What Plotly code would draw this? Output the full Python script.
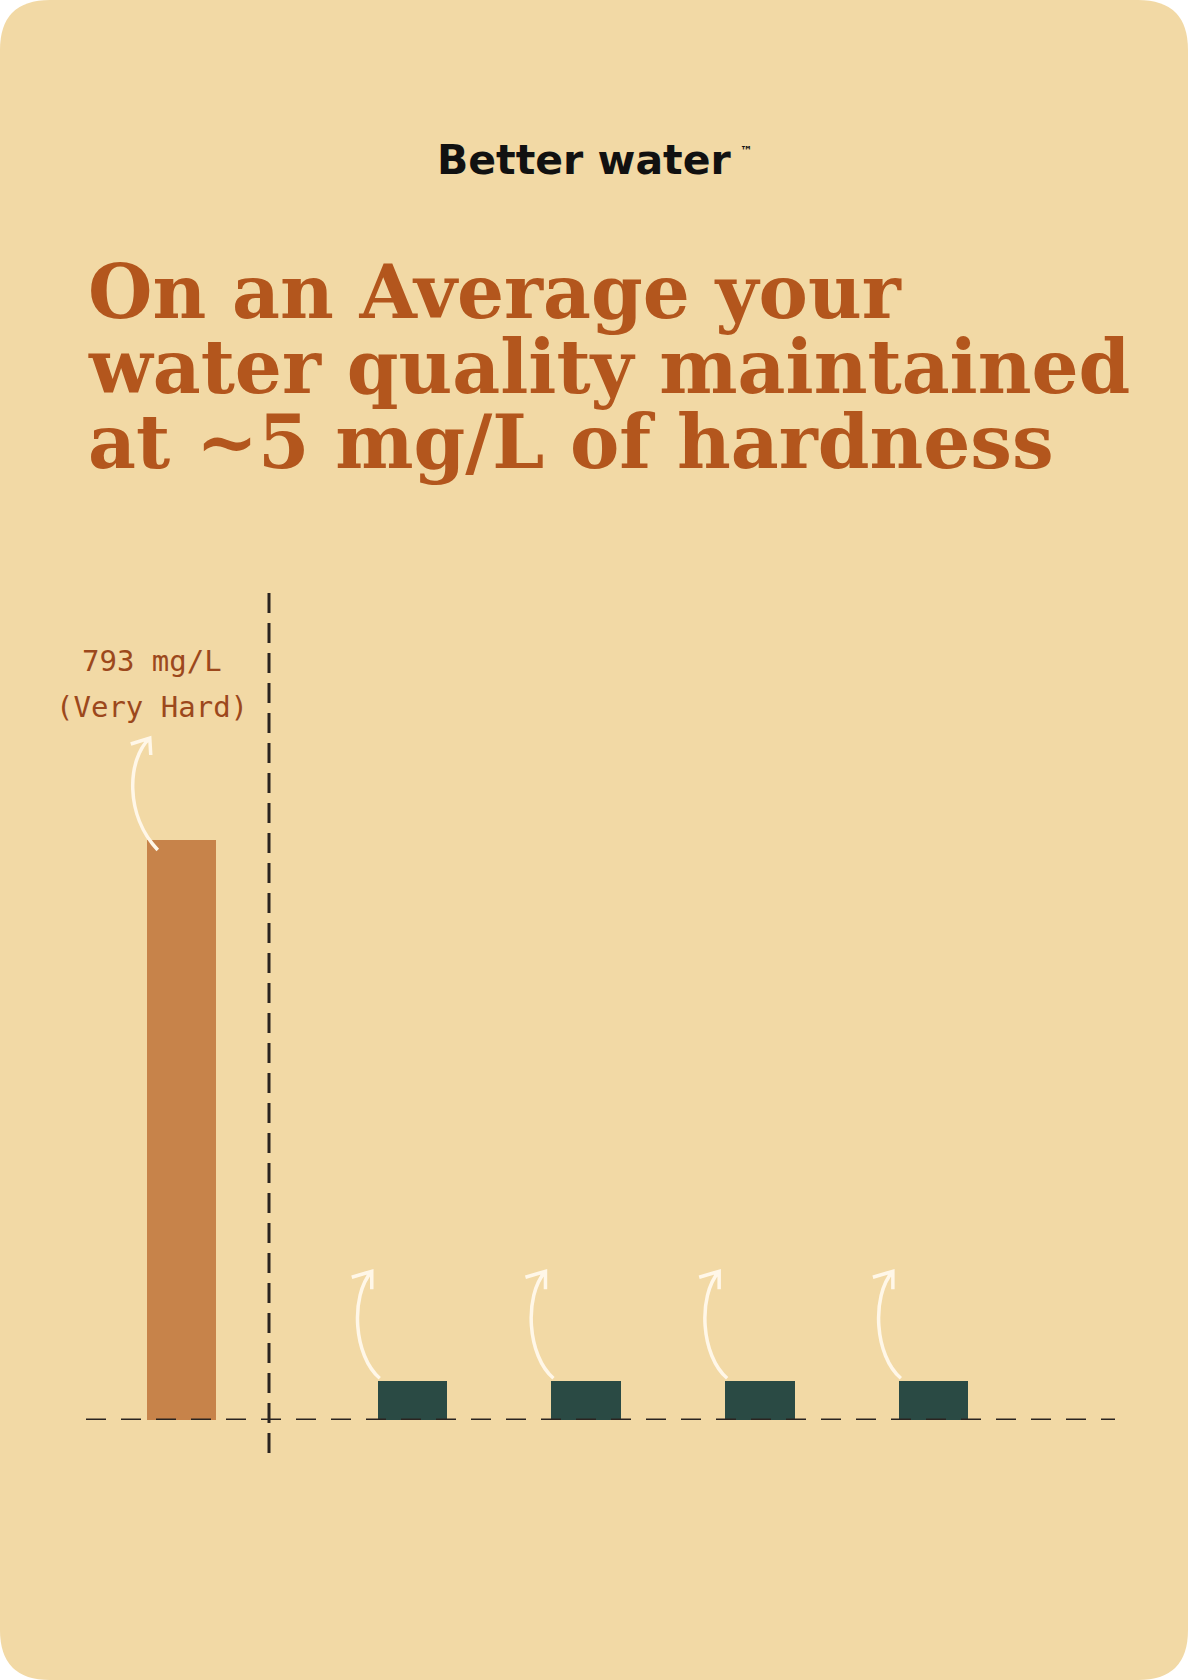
import plotly.graph_objects as go

# ---------------- data ----------------
brand = "Better water"
brand_mark = "™"
title_lines = ["On an Average your", "water quality maintained", "at ~5 mg/L of hardness"]

before_categories = ["Untreated water"]
before_values = [793]                      # mg/L
before_label_lines = ["793 mg/L", "(Very Hard)"]

after_categories = ["Reading 1", "Reading 2", "Reading 3", "Reading 4"]
after_values = [53, 53, 53, 53]            # bar heights as drawn, relative to the 793 bar

# ---------------- style ----------------
W, H = 1188, 1680
BG = "#F2D9A5"
TITLE_C = "#B3561D"
ORANGE = "#C7834A"
TEAL = "#2A4A44"
INK = "#2A2420"
ARROW = "#FFF7E8"
LABEL_C = "#9C481C"


def fx(px):
    return px / W


def fy(py):
    return 1 - py / H


# axis geometry (pixels)
unit_px = 173.7          # pixels per category step
bar_w = 0.4              # bar width in category units
split_px = 269           # vertical divider
left_px, right_px = 86, 1115
base_py, top_py = 1420, 593
first_before_center = 181.5
first_after_center = 412.5

x1_range = [-(first_before_center - left_px) / unit_px,
            (split_px - first_before_center) / unit_px]
x2_range = [-(first_after_center - split_px) / unit_px,
            (right_px - first_after_center) / unit_px]
plot_h = base_py - top_py
y_max = before_values[0] * plot_h / (base_py - 840)

fig = go.Figure()
fig.add_trace(go.Bar(
    x=list(range(len(before_values))), y=before_values, width=bar_w,
    marker=dict(color=ORANGE, line=dict(width=0)),
    customdata=before_categories,
    hovertemplate="%{customdata}: %{y} mg/L<extra></extra>",
    xaxis="x", yaxis="y", showlegend=False,
))
fig.add_trace(go.Bar(
    x=list(range(len(after_values))), y=after_values, width=bar_w,
    marker=dict(color=TEAL, line=dict(width=0)),
    customdata=after_categories,
    hovertemplate="%{customdata}<extra></extra>",
    xaxis="x2", yaxis="y", showlegend=False,
))

shapes = []
# rounded card
r = 50
rx, ry = r / W, r / H
card = (f"M {rx},0 L {1-rx},0 Q 1,0 1,{ry} L 1,{1-ry} Q 1,1 {1-rx},1 "
        f"L {rx},1 Q 0,1 0,{1-ry} L 0,{ry} Q 0,0 {rx},0 Z")
shapes.append(dict(type="path", xref="paper", yref="paper", path=card,
                   fillcolor=BG, line=dict(width=0), layer="below"))
# baseline
shapes.append(dict(type="line", xref="paper", yref="y",
                   x0=fx(left_px), x1=fx(right_px), y0=0, y1=0,
                   line=dict(color=INK, width=3, dash="20px,15px"), layer="above"))
# vertical divider
shapes.append(dict(type="line", xref="x domain", yref="y domain",
                   x0=1, x1=1, y0=1, y1=-(1460 - base_py) / plot_h,
                   line=dict(color=INK, width=3, dash="20px,10px"), layer="above"))

# curved hand-drawn arrows (pixel offsets from each bar's top-left corner)
orange_arrow = "M 11,-10 C -22,25 -20,80 3,102 M -16,96 L 3,102 L 4,85"
teal_arrow = "M 2,3 C -24,25 -28,85 -6,110 M -26,104 L -6,110 L -6,92"
for i, v in enumerate(before_values):
    shapes.append(dict(type="path", xref="x", yref="y",
                       xsizemode="pixel", ysizemode="pixel",
                       xanchor=i - bar_w / 2, yanchor=v, path=orange_arrow,
                       line=dict(color=ARROW, width=3.5), fillcolor="rgba(0,0,0,0)",
                       layer="above"))
for i, v in enumerate(after_values):
    shapes.append(dict(type="path", xref="x2", yref="y",
                       xsizemode="pixel", ysizemode="pixel",
                       xanchor=i - bar_w / 2, yanchor=v, path=teal_arrow,
                       line=dict(color=ARROW, width=3.5), fillcolor="rgba(0,0,0,0)",
                       layer="above"))

annotations = []
# brand
annotations.append(dict(text=f"<b>{brand}</b>", xref="paper", yref="paper",
                        x=fx(584), y=fy(160), xanchor="center", yanchor="middle",
                        showarrow=False,
                        font=dict(family="DejaVu Sans", size=41, color="#111111")))
annotations.append(dict(text=f"<b>{brand_mark}</b>", xref="paper", yref="paper",
                        x=fx(738), y=fy(151), xanchor="left", yanchor="middle",
                        showarrow=False,
                        font=dict(family="DejaVu Sans", size=12, color="#111111")))
# title lines
for k, line in enumerate(title_lines):
    annotations.append(dict(text=f"<b>{line}</b>", xref="paper", yref="paper",
                            x=fx(86), y=fy(292 + 75 * k), xanchor="left", yanchor="middle",
                            showarrow=False,
                            font=dict(family="DejaVu Serif", size=74, color=TITLE_C)))
# handwritten label above the untreated bar
for k, line in enumerate(before_label_lines):
    annotations.append(dict(text=line, xref="x", yref="y",
                            x=0, y=before_values[0], xshift=-30, yshift=179 - 46 * k,
                            xanchor="center", yanchor="middle", showarrow=False,
                            font=dict(family="DejaVu Sans Mono", size=29, color=LABEL_C)))

fig.update_layout(
    width=W, height=H,
    margin=dict(l=0, r=0, t=0, b=0),
    paper_bgcolor="#FFFFFF",
    plot_bgcolor="rgba(0,0,0,0)",
    xaxis=dict(domain=[fx(left_px), fx(split_px)], range=x1_range, visible=False,
               fixedrange=True),
    xaxis2=dict(domain=[fx(split_px), fx(right_px)], range=x2_range, visible=False,
                anchor="y", fixedrange=True),
    yaxis=dict(domain=[fy(base_py), fy(top_py)], range=[0, y_max], visible=False,
               fixedrange=True),
    shapes=shapes,
    annotations=annotations,
    bargap=0,
)

fig.write_html(
    "out.html",
    config={"displayModeBar": False},
    post_script="document.body.style.margin='0';document.body.style.overflow='hidden';",
)
